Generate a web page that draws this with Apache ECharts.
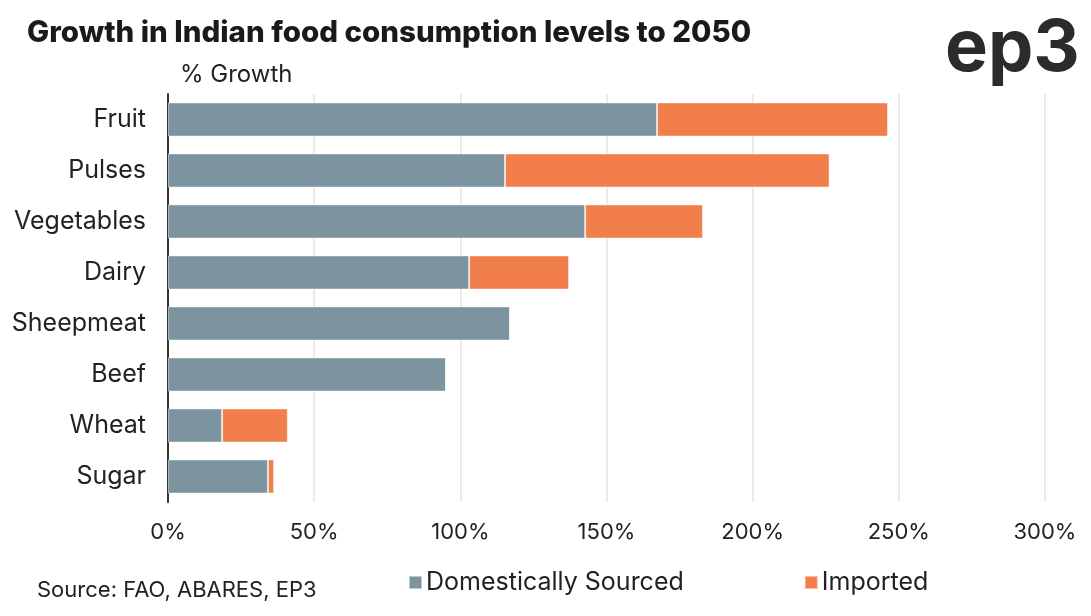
<!DOCTYPE html>
<html><head><meta charset="utf-8">
<script src="https://cdn.jsdelivr.net/npm/echarts@6/dist/echarts.min.js"></script>
<style>html,body{margin:0;padding:0;background:#fff}#c{width:1091px;height:616px}</style>
</head><body><div id="c"></div>
<script>
const categories = ["Fruit","Pulses","Vegetables","Dairy","Sheepmeat","Beef","Wheat","Sugar"];
const domestic = [167.3, 115.3, 142.7, 103, 117, 95.1, 18.5, 34.2];
const imported = [79, 111, 40.3, 34.2, 0, 0, 22.5, 2.1];
const xTicks = [0, 50, 100, 150, 200, 250, 300];
const FONT = "Inter";
const chart = echarts.init(document.getElementById('c'));
chart.setOption({
  animation:false,
  backgroundColor:'#fff',
  title:{text:'Growth in Indian food consumption levels to 2050',left:22,top:13,
    textStyle:{fontFamily:FONT,fontWeight:800,fontSize:29.5,color:'#1a1a1a'}},
  graphic:[
    {type:'text',left:945,top:13,style:{text:'ep3',font:'bold 72px Inter',fill:'#2b2b2b'}},
    {type:'text',left:180,top:63,style:{text:'% Growth',font:'24px Inter',fill:'#222'}},
    {type:'text',left:37,top:579,style:{text:'Source: FAO, ABARES, EP3',font:'22px Inter',fill:'#222'}}
  ],
  legend:{left:403,top:565,itemWidth:13,itemHeight:13,itemGap:120,icon:'rect',
    textStyle:{fontFamily:FONT,fontSize:25,color:'#222',padding:[0,0,0,-1]},
    data:['Domestically Sourced','Imported']},
  grid:{left:168,right:46,top:94,height:408},
  xAxis:{type:'value',min:0,max:300,interval:50,
    axisLabel:{formatter:v=>v+'%',fontFamily:FONT,fontSize:22,color:'#222',margin:19},
    splitLine:{lineStyle:{color:'#ecebe3',width:2}},axisLine:{show:false},axisTick:{show:false}},
  yAxis:{type:'category',inverse:true,data:categories,
    axisLine:{lineStyle:{color:'#333',width:2}},axisTick:{show:false},
    axisLabel:{fontFamily:FONT,fontSize:25,color:'#222',margin:22}},
  series:[
    {name:'Domestically Sourced',type:'bar',stack:'a',data:domestic,barCategoryGap:'33%',
     itemStyle:{color:'#7b94a0',borderColor:'rgba(255,255,255,0.5)',borderWidth:1}},
    {name:'Imported',type:'bar',stack:'a',data:imported,
     itemStyle:{color:'#f27f4b',borderColor:'rgba(255,255,255,0.5)',borderWidth:1}}
  ]
});
</script></body></html>
